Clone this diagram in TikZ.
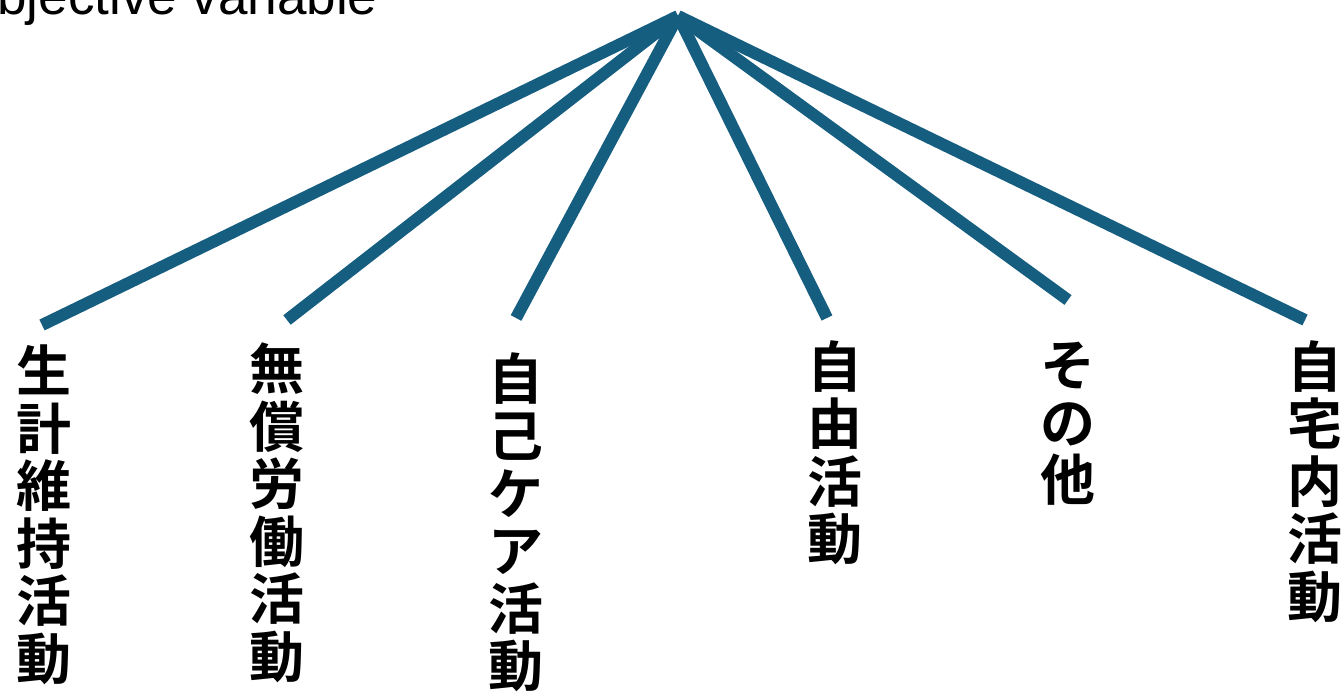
\documentclass[tikz,border=0pt]{standalone}
\usepackage{fontspec}
\setmainfont{Liberation Sans}
\newfontfamily\cjk{Noto Sans CJK JP}[BoldFont={* Bold}]
\definecolor{branch}{RGB}{22,94,128}
\begin{document}
\begin{tikzpicture}[x=1pt,y=-1pt,
  branchline/.style={draw=branch,line width=12pt,line cap=butt},
  vlabel/.style={anchor=north,align=center,inner sep=0pt,
    font=\cjk\bfseries\fontsize{55}{57.5}\selectfont},
  titlelabel/.style={anchor=base west,inner sep=0pt,
    font=\fontsize{53}{62}\selectfont}]
\useasboundingbox (0,0) rectangle (1344,695);
\node[titlelabel] (title) at (-44,15) {Objective variable};
\coordinate (apex) at (678,16);
\coordinate (e1) at (42,325);
\coordinate (e2) at (287,320);
\coordinate (e3) at (516,318);
\coordinate (e4) at (827,318);
\coordinate (e5) at (1068,300);
\coordinate (e6) at (1305,320);
\foreach \i in {1,...,6} \draw[branchline] (apex) -- (e\i);
\node[vlabel] (c1) at (44,345) {生\\計\\維\\持\\活\\動};
\node[vlabel] (c2) at (277,343) {無\\償\\労\\働\\活\\動};
\node[vlabel] (c3) at (516,352) {自\\己\\ケ\\ア\\活\\動};
\node[vlabel] (c4) at (835,340) {自\\由\\活\\動};
\node[vlabel] (c5) at (1068,342) {そ\\の\\他};
\node[vlabel] (c6) at (1315,340) {自\\宅\\内\\活\\動};
\end{tikzpicture}
\end{document}
